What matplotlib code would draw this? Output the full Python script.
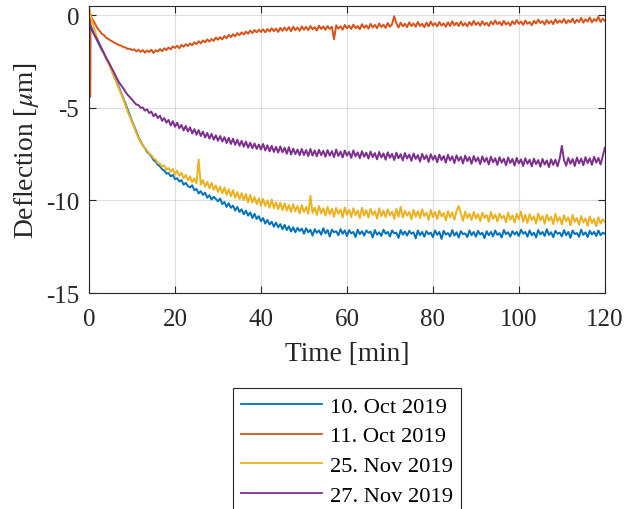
import matplotlib
matplotlib.use('Agg')
import matplotlib.pyplot as plt

plt.rcParams['font.family'] = ['Liberation Serif', 'DejaVu Serif']
plt.rcParams['mathtext.fontset'] = 'stix'
plt.rcParams['axes.unicode_minus'] = False

# time axis in minutes, one sample every half minute
t = [i * 0.5 for i in range(241)]

labels = ['10. Oct 2019', '11. Oct 2019', '25. Nov 2019', '27. Nov 2019']
colors = ['#0072BD', '#D95319', '#EDB120', '#7E2F8E']

oct10 = [
    -0.40, -0.62, -0.90, -1.18, -1.42, -1.65, -1.90, -2.10, -2.32, -2.55,
    -2.80, -3.10, -3.40, -3.62, -3.92, -4.20, -4.50, -4.78, -5.10, -5.40,
    -5.72, -6.00, -6.28, -6.58, -6.80, -7.02, -7.18, -7.38, -7.48, -7.62,
    -7.82, -7.90, -8.08, -8.15, -8.32, -8.38, -8.55, -8.52, -8.70, -8.62,
    -8.85, -8.80, -8.98, -8.90, -9.15, -9.05, -9.22, -9.30, -9.18, -9.45,
    -9.38, -9.62, -9.50, -9.70, -9.58, -9.85, -9.72, -9.95, -9.80, -9.92,
    -10.05, -9.90, -10.20, -10.08, -10.35, -10.15, -10.40, -10.28, -10.55, -10.35,
    -10.62, -10.48, -10.75, -10.55, -10.82, -10.65, -10.95, -10.72, -11.00, -10.85,
    -11.12, -10.95, -11.25, -11.05, -11.30, -11.15, -11.42, -11.20, -11.45, -11.28,
    -11.55, -11.32, -11.60, -11.40, -11.68, -11.45, -11.72, -11.48, -11.65, -11.52,
    -11.80, -11.50, -11.72, -11.58, -11.90, -11.55, -11.75, -11.62, -11.85, -11.50,
    -11.78, -11.60, -11.95, -11.58, -11.72, -11.66, -11.88, -11.55, -11.80, -11.62,
    -11.92, -11.60, -11.78, -11.70, -11.98, -11.58, -11.82, -11.66, -11.90, -11.62,
    -11.75, -11.68, -12.00, -11.60, -11.85, -11.72, -11.92, -11.58, -11.80, -11.70,
    -11.95, -11.62, -11.78, -11.74, -12.02, -11.60, -11.85, -11.68, -11.90, -11.64,
    -11.80, -11.72, -12.05, -11.62, -11.88, -11.70, -11.96, -11.66, -11.82, -11.74,
    -11.98, -11.62, -11.86, -11.70, -12.08, -11.64, -11.84, -11.76, -11.95, -11.60,
    -11.90, -11.72, -12.00, -11.66, -11.82, -11.78, -11.98, -11.62, -11.88, -11.70,
    -11.96, -11.64, -11.84, -11.74, -12.04, -11.66, -11.88, -11.70, -11.94, -11.62,
    -11.86, -11.76, -12.00, -11.60, -11.82, -11.72, -11.95, -11.66, -11.84, -11.70,
    -11.92, -11.58, -11.80, -11.70, -11.96, -11.62, -11.88, -11.74, -12.00, -11.60,
    -11.84, -11.70, -11.92, -11.56, -11.86, -11.72, -11.98, -11.64, -11.80, -11.74,
    -11.94, -11.60, -11.88, -11.70, -12.02, -11.62, -11.82, -11.76, -11.96, -11.58,
    -11.86, -11.72, -11.98, -11.64, -11.84, -11.70, -11.92, -11.62, -11.88, -11.74,
    -11.80,
]

# 11 Oct starts at -4.4 and jumps up to 0 right after the start
oct11_t = [0.0, 0.3, 0.35] + t[1:]
oct11 = [
    -4.40, -4.40, 0.05,
    -0.10, -0.30, -0.50, -0.72, -0.85, -1.00, -1.08, -1.22, -1.28, -1.36,
    -1.42, -1.50, -1.55, -1.62, -1.64, -1.72, -1.74, -1.82, -1.80, -1.88,
    -1.84, -1.95, -1.86, -1.98, -1.88, -2.02, -1.90, -1.98, -1.86, -2.04,
    -1.88, -1.96, -1.82, -1.94, -1.78, -1.88, -1.74, -1.84, -1.68, -1.76,
    -1.64, -1.78, -1.60, -1.70, -1.56, -1.66, -1.52, -1.62, -1.46, -1.56,
    -1.40, -1.52, -1.36, -1.46, -1.30, -1.42, -1.28, -1.38, -1.20, -1.32,
    -1.18, -1.30, -1.12, -1.24, -1.06, -1.18, -1.02, -1.14, -0.96, -1.08,
    -0.92, -1.04, -0.88, -1.00, -0.82, -0.96, -0.80, -0.92, -0.78, -0.90,
    -0.76, -0.92, -0.74, -0.88, -0.70, -0.86, -0.72, -0.90, -0.68, -0.84,
    -0.66, -0.82, -0.64, -0.86, -0.62, -0.80, -0.66, -0.84, -0.60, -0.78,
    -0.62, -0.80, -0.58, -0.76, -0.64, -0.82, -0.56, -0.74, -0.60, -0.78,
    -0.58, -0.74, -0.62, -1.30, -0.54, -0.72, -0.60, -0.78, -0.52, -0.70,
    -0.56, -0.74, -0.50, -0.70, -0.58, -0.76, -0.48, -0.68, -0.54, -0.72,
    -0.46, -0.66, -0.52, -0.70, -0.44, -0.64, -0.50, -0.68, -0.42, -0.62,
    -0.48, -0.05, -0.44, -0.66, -0.40, -0.60, -0.46, -0.64, -0.38, -0.58,
    -0.44, -0.62, -0.36, -0.58, -0.46, -0.64, -0.40, -0.60, -0.34, -0.56,
    -0.42, -0.60, -0.36, -0.56, -0.44, -0.62, -0.38, -0.58, -0.32, -0.54,
    -0.40, -0.58, -0.34, -0.56, -0.42, -0.60, -0.36, -0.54, -0.30, -0.52,
    -0.38, -0.56, -0.32, -0.52, -0.40, -0.58, -0.34, -0.50, -0.28, -0.48,
    -0.36, -0.54, -0.30, -0.50, -0.38, -0.56, -0.32, -0.48, -0.26, -0.46,
    -0.34, -0.52, -0.28, -0.46, -0.36, -0.54, -0.30, -0.44, -0.24, -0.42,
    -0.32, -0.50, -0.26, -0.44, -0.30, -0.48, -0.22, -0.42, -0.28, -0.40,
    -0.20, -0.44, -0.26, -0.38, -0.18, -0.42, -0.24, -0.36, -0.14, -0.40,
    -0.22, -0.34, -0.12, -0.38, -0.20, -0.32, -0.08, -0.36, -0.18, -0.30,
]

nov25 = [
    0.45, -0.15, -0.55, -0.95, -1.30, -1.58, -1.85, -2.10, -2.35, -2.60,
    -2.85, -3.12, -3.40, -3.70, -3.98, -4.25, -4.55, -4.88, -5.20, -5.48,
    -5.75, -6.05, -6.35, -6.60, -6.85, -7.00, -7.20, -7.30, -7.48, -7.55,
    -7.72, -7.80, -7.98, -8.02, -8.18, -8.10, -8.35, -8.25, -8.45, -8.30,
    -8.60, -8.40, -8.68, -8.50, -8.80, -8.62, -8.92, -8.70, -9.02, -8.80,
    -9.08, -7.80, -9.15, -8.90, -9.25, -9.00, -9.35, -9.05, -9.42, -9.18,
    -9.55, -9.25, -9.62, -9.30, -9.70, -9.40, -9.78, -9.45, -9.85, -9.55,
    -9.92, -9.60, -9.98, -9.65, -10.10, -9.70, -10.12, -9.82, -10.20, -9.88,
    -10.28, -9.92, -10.30, -10.00, -10.40, -9.95, -10.42, -10.10, -10.48, -10.12,
    -10.52, -10.15, -10.55, -10.25, -10.62, -10.20, -10.58, -10.30, -10.70, -10.25,
    -10.62, -10.35, -10.72, -9.75, -10.68, -10.38, -10.78, -10.30, -10.70, -10.42,
    -10.82, -10.35, -10.75, -10.45, -10.88, -10.40, -10.72, -10.48, -10.92, -10.38,
    -10.78, -10.50, -10.90, -10.42, -10.80, -10.55, -10.95, -10.40, -10.82, -10.52,
    -10.92, -10.45, -10.78, -10.58, -10.98, -10.42, -10.85, -10.55, -10.90, -10.48,
    -10.80, -10.60, -11.00, -10.45, -10.88, -10.35, -10.92, -10.55, -10.82, -10.62,
    -11.02, -10.50, -10.88, -10.58, -10.95, -10.48, -10.84, -10.66, -11.05, -10.52,
    -10.90, -10.62, -11.00, -10.55, -10.86, -10.68, -11.08, -10.58, -10.92, -10.64,
    -11.04, -10.56, -10.30, -10.70, -11.10, -10.60, -10.95, -10.72, -11.06, -10.62,
    -10.98, -10.74, -11.12, -10.66, -10.94, -10.78, -11.15, -10.62, -11.00, -10.76,
    -11.14, -10.70, -10.96, -10.82, -11.18, -10.66, -11.04, -10.80, -11.20, -10.72,
    -11.02, -10.60, -11.16, -10.78, -11.22, -10.74, -11.06, -10.86, -11.24, -10.70,
    -11.08, -10.84, -11.26, -10.76, -11.10, -10.88, -11.28, -10.72, -11.14, -10.90,
    -11.30, -10.80, -11.12, -10.92, -11.34, -10.78, -11.16, -10.95, -11.32, -10.84,
    -11.18, -10.98, -11.38, -10.86, -11.22, -11.00, -11.40, -10.90, -11.25, -11.02,
    -11.15,
]

nov27 = [
    -0.35, -0.75, -0.95, -1.15, -1.35, -1.60, -1.82, -2.05, -2.30, -2.50,
    -2.72, -2.95, -3.18, -3.42, -3.62, -3.80, -3.95, -4.15, -4.30, -4.42,
    -4.55, -4.70, -4.82, -4.85, -5.00, -4.98, -5.15, -5.08, -5.28, -5.20,
    -5.45, -5.32, -5.55, -5.42, -5.70, -5.55, -5.80, -5.65, -5.95, -5.72,
    -6.02, -5.80, -6.10, -5.92, -6.22, -5.98, -6.28, -6.05, -6.38, -6.15,
    -6.45, -6.20, -6.52, -6.28, -6.60, -6.35, -6.66, -6.40, -6.72, -6.48,
    -6.78, -6.52, -6.82, -6.58, -6.90, -6.62, -6.95, -6.66, -7.00, -6.72,
    -7.05, -6.78, -7.10, -6.82, -7.15, -6.88, -7.18, -6.92, -7.22, -6.98,
    -7.25, -6.95, -7.30, -7.02, -7.35, -7.05, -7.38, -7.10, -7.42, -7.08,
    -7.40, -7.15, -7.48, -7.12, -7.52, -7.20, -7.50, -7.25, -7.56, -7.22,
    -7.55, -7.28, -7.60, -7.22, -7.58, -7.30, -7.62, -7.26, -7.56, -7.32,
    -7.64, -7.28, -7.58, -7.34, -7.66, -7.25, -7.60, -7.36, -7.68, -7.30,
    -7.58, -7.38, -7.70, -7.30, -7.62, -7.40, -7.72, -7.34, -7.64, -7.42,
    -7.74, -7.36, -7.66, -7.44, -7.78, -7.38, -7.68, -7.46, -7.80, -7.40,
    -7.70, -7.48, -7.82, -7.42, -7.72, -7.50, -7.84, -7.44, -7.74, -7.52,
    -7.86, -7.46, -7.76, -7.55, -7.90, -7.48, -7.78, -7.56, -7.92, -7.50,
    -7.80, -7.58, -7.94, -7.52, -7.82, -7.60, -7.96, -7.54, -7.84, -7.62,
    -7.98, -7.56, -7.86, -7.64, -8.00, -7.58, -7.88, -7.66, -8.02, -7.60,
    -7.90, -7.68, -8.04, -7.62, -7.92, -7.70, -8.06, -7.64, -7.94, -7.72,
    -8.08, -7.66, -7.96, -7.74, -8.10, -7.68, -7.98, -7.76, -8.12, -7.70,
    -8.00, -7.78, -8.14, -7.72, -8.02, -7.80, -8.16, -7.74, -8.04, -7.82,
    -8.18, -7.76, -8.06, -7.84, -8.20, -7.78, -8.08, -7.80, -8.16, -7.74,
    -7.05, -7.82, -8.12, -7.70, -8.02, -7.76, -8.14, -7.68, -8.00, -7.74,
    -8.10, -7.66, -7.98, -7.72, -8.08, -7.64, -7.96, -7.70, -8.06, -7.62,
    -7.15,
]

fig = plt.figure(figsize=(6.36, 5.10), dpi=100)
ax = fig.add_axes([0.140, 0.4235, 0.811, 0.5627])

ax.plot(t, oct10, color=colors[0], lw=1.4, label=labels[0])
ax.plot(oct11_t, oct11, color=colors[1], lw=1.4, label=labels[1])
ax.plot(t, nov25, color=colors[2], lw=1.4, label=labels[2])
ax.plot(t, nov27, color=colors[3], lw=1.4, label=labels[3])

ax.set_xlim(0, 120)
ax.set_ylim(-15, 0.5)
ax.set_xticks([0, 20, 40, 60, 80, 100, 120])
ax.set_yticks([-15, -10, -5, 0])
ax.grid(True, color='#262626', alpha=0.15, lw=0.8)
ax.tick_params(direction='in', top=True, right=True, labelsize=18,
               length=5, width=0.8, colors='#262626', labelcolor='#262626')
ax.tick_params(axis='x', pad=11)
ax.tick_params(axis='y', pad=7)
for s in ax.spines.values():
    s.set_color('#262626')
    s.set_linewidth(0.8)

ax.set_xlabel('Time [min]', fontsize=19.8, color='#262626', labelpad=8)
ax.set_ylabel(r'Deflection [$\mu$m]', fontsize=19.8, color='#262626', labelpad=4)

leg = fig.legend(loc='upper left', bbox_to_anchor=(233 / 636, 1 - 389 / 510),
                 fontsize=16.2, handlelength=3.6, handletextpad=0.35,
                 labelspacing=0.4, borderpad=0.35, borderaxespad=0,
                 fancybox=False, framealpha=1, edgecolor='#262626')
leg.get_frame().set_linewidth(0.8)
for line in leg.get_lines():
    line.set_linewidth(1.3)

fig.savefig('out.png', dpi=100)
